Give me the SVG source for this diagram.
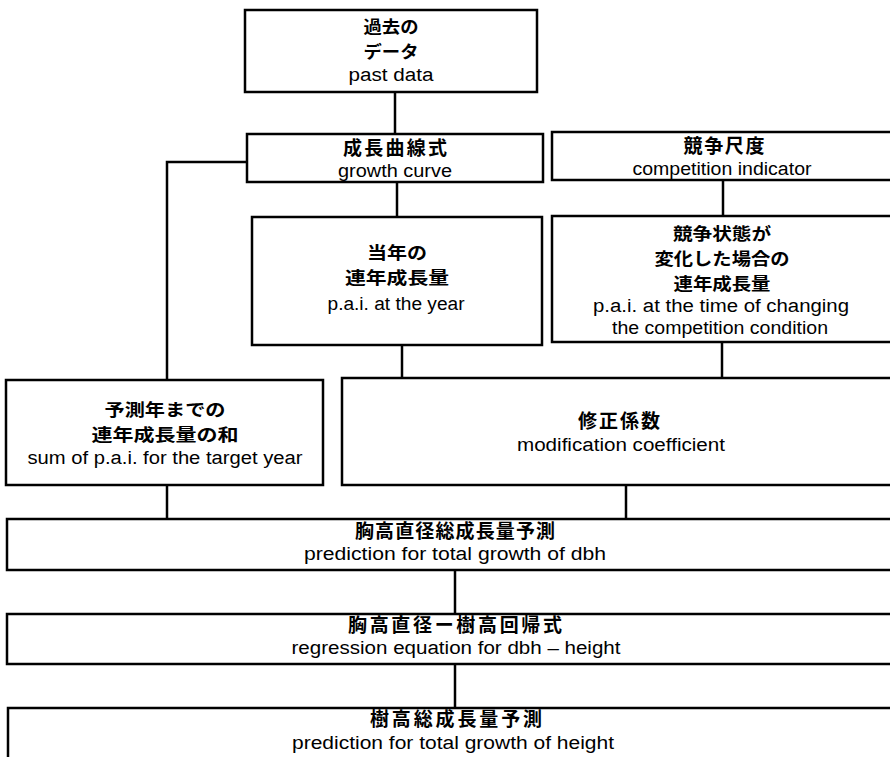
<svg xmlns="http://www.w3.org/2000/svg" width="890" height="757" viewBox="0 0 890 757">
<style>
.box{fill:#fff;stroke:#000;stroke-width:2.5}
.ln{fill:none;stroke:#000;stroke-width:2.5}
.jp{font-family:"Noto Sans CJK JP","Noto Sans CJK SC",sans-serif;font-size:17px;font-weight:bold;text-anchor:middle;fill:#000}
.j1{font-size:19px}
.en{font-family:"Liberation Sans","Noto Sans",sans-serif;font-size:18px;text-anchor:middle;fill:#000}
</style>
<rect width="890" height="757" fill="#fff"/>
<g id="connectors">
<path class="ln" d="M395 92V134"/>
<path class="ln" d="M248 162H167V380"/>
<path class="ln" d="M397 182V217"/>
<path class="ln" d="M723 180V216"/>
<path class="ln" d="M402 345V378"/>
<path class="ln" d="M722 342V378"/>
<path class="ln" d="M167 485V519"/>
<path class="ln" d="M626 485V519"/>
<path class="ln" d="M455 570V614"/>
<path class="ln" d="M455 664V708"/>
</g>
<g id="past-data">
<rect class="box" x="245" y="10" width="292" height="82"/>
<text class="jp" x="391" y="33" textLength="55" lengthAdjust="spacingAndGlyphs">過去の</text>
<text class="jp" x="391" y="58" textLength="55" lengthAdjust="spacingAndGlyphs">データ</text>
<text class="en" x="391" y="81" textLength="85" lengthAdjust="spacingAndGlyphs">past data</text>
</g>
<g id="growth-curve">
<rect class="box" x="247" y="134" width="296" height="48"/>
<text class="jp j1" x="395" y="155" textLength="104">成長曲線式</text>
<text class="en" x="395" y="177" textLength="114" lengthAdjust="spacingAndGlyphs">growth curve</text>
</g>
<g id="competition-indicator">
<rect class="box" x="552" y="132" width="345" height="48"/>
<text class="jp j1" x="724" y="153" textLength="81">競争尺度</text>
<text class="en" x="722" y="175" textLength="179" lengthAdjust="spacingAndGlyphs">competition indicator</text>
</g>
<g id="pai-year">
<rect class="box" x="252" y="217" width="290" height="128"/>
<text class="jp" x="397" y="259" textLength="60" lengthAdjust="spacingAndGlyphs">当年の</text>
<text class="jp" x="397" y="284" textLength="104" lengthAdjust="spacingAndGlyphs">連年成長量</text>
<text class="en" x="396" y="310" textLength="137" lengthAdjust="spacingAndGlyphs">p.a.i. at the year</text>
</g>
<g id="pai-changing">
<rect class="box" x="552" y="216" width="345" height="126"/>
<text class="jp" x="722" y="240" textLength="98" lengthAdjust="spacingAndGlyphs">競争状態が</text>
<text class="jp" x="722" y="265" textLength="135" lengthAdjust="spacingAndGlyphs">変化した場合の</text>
<text class="jp" x="722" y="290" textLength="97" lengthAdjust="spacingAndGlyphs">連年成長量</text>
<text class="en" x="721" y="312" textLength="256" lengthAdjust="spacingAndGlyphs">p.a.i. at the time of changing</text>
<text class="en" x="720" y="334" textLength="216" lengthAdjust="spacingAndGlyphs">the competition condition</text>
</g>
<g id="sum-pai">
<rect class="box" x="6" y="380" width="317" height="105"/>
<text class="jp" x="165" y="416" textLength="121" lengthAdjust="spacingAndGlyphs">予測年までの</text>
<text class="jp" x="165" y="441" textLength="147" lengthAdjust="spacingAndGlyphs">連年成長量の和</text>
<text class="en" x="165" y="464" textLength="275" lengthAdjust="spacingAndGlyphs">sum of p.a.i. for the target year</text>
</g>
<g id="modification">
<rect class="box" x="342" y="378" width="555" height="107"/>
<text class="jp j1" x="619" y="428" textLength="82">修正係数</text>
<text class="en" x="621" y="451" textLength="208" lengthAdjust="spacingAndGlyphs">modification coefficient</text>
</g>
<g id="dbh-prediction">
<rect class="box" x="7" y="519" width="890" height="51"/>
<text class="jp j1" x="455" y="538" textLength="200">胸高直径総成長量予測</text>
<text class="en" x="455" y="560" textLength="302" lengthAdjust="spacingAndGlyphs">prediction for total growth of dbh</text>
</g>
<g id="regression">
<rect class="box" x="7" y="614" width="890" height="50"/>
<text class="jp j1" x="455" y="632" textLength="214">胸高直径ー樹高回帰式</text>
<text class="en" x="456" y="654" textLength="329" lengthAdjust="spacingAndGlyphs">regression equation for dbh – height</text>
</g>
<g id="height-prediction">
<rect class="box" x="8" y="708" width="890" height="60"/>
<text class="jp j1" x="456" y="726" textLength="172">樹高総成長量予測</text>
<text class="en" x="453" y="749" textLength="322" lengthAdjust="spacingAndGlyphs">prediction for total growth of height</text>
</g>
</svg>
